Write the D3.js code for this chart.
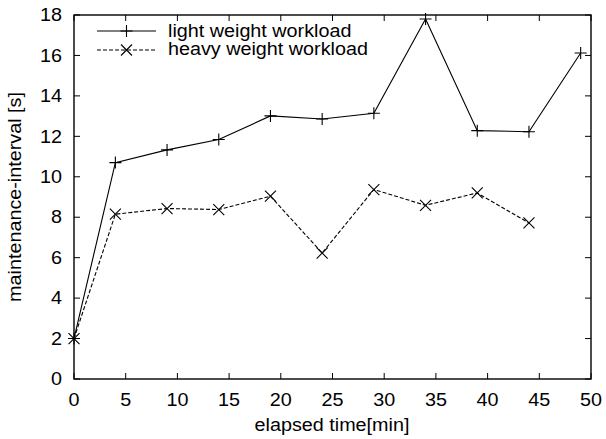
<!DOCTYPE html>
<html><head><meta charset="utf-8">
<script src="https://cdn.jsdelivr.net/npm/d3@7"></script>
<style>body{margin:0;background:#fff}svg{display:block}text{font-family:"Liberation Sans",Arial,sans-serif;fill:#000}</style>
</head><body>
<script>
const times = [0, 4, 9, 14, 19, 24, 29, 34, 39, 44, 49];
const lightWeight = [2.0, 10.7, 11.33, 11.84, 13.01, 12.86, 13.14, 17.8, 12.28, 12.23, 16.12];
const heavyTimes = [0, 4, 9, 14, 19, 24, 29, 34, 39, 44];
const heavyWeight = [2.0, 8.15, 8.43, 8.38, 9.04, 6.23, 9.37, 8.59, 9.2, 7.72];
const xTicks = [0, 5, 10, 15, 20, 25, 30, 35, 40, 45, 50];
const yTicks = [0, 2, 4, 6, 8, 10, 12, 14, 16, 18];
const seriesNames = ["light weight workload", "heavy weight workload"];

const W = 606, H = 439;
const L = 74, R = 591, T = 15, B = 379;
const FS = 17.5, SX = 1.13;
const svg = d3.select("body").append("svg").attr("width", W).attr("height", H);
const x = d3.scaleLinear().domain([0, 50]).range([L, R]);
const y = d3.scaleLinear().domain([0, 18]).range([B, T]);
const tl = 6;

function label(px, py, str, anchor, rot) {
  return svg.append("text")
    .attr("transform", `translate(${px},${py})` + (rot ? ` rotate(${rot})` : "") + ` scale(${SX},1)`)
    .attr("text-anchor", anchor).attr("font-size", FS).text(str);
}

// ticks (mirrored, inward)
const g = svg.append("g").attr("stroke", "#000").attr("stroke-width", 1);
xTicks.forEach(v => {
  g.append("line").attr("x1", x(v)).attr("x2", x(v)).attr("y1", B).attr("y2", B - tl);
  g.append("line").attr("x1", x(v)).attr("x2", x(v)).attr("y1", T).attr("y2", T + tl);
});
yTicks.forEach(v => {
  g.append("line").attr("x1", L).attr("x2", L + tl).attr("y1", y(v)).attr("y2", y(v));
  g.append("line").attr("x1", R).attr("x2", R - tl).attr("y1", y(v)).attr("y2", y(v));
});
svg.append("rect").attr("x", L).attr("y", T).attr("width", R - L).attr("height", B - T)
  .attr("fill", "none").attr("stroke", "#000").attr("stroke-width", 1.4);

xTicks.forEach(v => label(x(v), B + 26.5, v, "middle"));
yTicks.forEach(v => label(62, y(v) + 6.2, v, "end"));

label((L + R) / 2 - 0.5, 431, "elapsed time[min]", "middle");
label(21, 197, "maintenance-interval [s]", "middle", -90);

const line = d3.line().x(d => x(d[0])).y(d => y(d[1]));
const lightData = times.map((t, i) => [t, lightWeight[i]]);
const heavyData = heavyTimes.map((t, i) => [t, heavyWeight[i]]);

svg.append("path").datum(lightData).attr("d", line).attr("fill", "none").attr("stroke", "#000").attr("stroke-width", 1.1);
svg.append("path").datum(heavyData).attr("d", line).attr("fill", "none").attr("stroke", "#000")
  .attr("stroke-width", 1.1).attr("stroke-dasharray", "4,2");

const ms = 6;
function plus(px, py) {
  svg.append("path").attr("d", `M${px - ms},${py}H${px + ms}M${px},${py - ms}V${py + ms}`)
    .attr("stroke", "#000").attr("stroke-width", 1.1).attr("fill", "none");
}
function cross(px, py) {
  const s = ms - 0.5;
  svg.append("path").attr("d", `M${px - s},${py - s}L${px + s},${py + s}M${px - s},${py + s}L${px + s},${py - s}`)
    .attr("stroke", "#000").attr("stroke-width", 1.1).attr("fill", "none");
}
lightData.forEach(d => plus(x(d[0]), y(d[1])));
heavyData.forEach(d => cross(x(d[0]), y(d[1])));

// legend
const ly1 = 31, ly2 = 50;
svg.append("line").attr("x1", 97).attr("x2", 156).attr("y1", ly1).attr("y2", ly1).attr("stroke", "#000").attr("stroke-width", 1.1);
plus(126.5, ly1);
svg.append("line").attr("x1", 97).attr("x2", 156).attr("y1", ly2).attr("y2", ly2).attr("stroke", "#000").attr("stroke-width", 1.1).attr("stroke-dasharray", "4,2");
cross(126.5, ly2);
label(168, 36.5, seriesNames[0], "start");
label(168, 55, seriesNames[1], "start");
</script>
</body></html>
